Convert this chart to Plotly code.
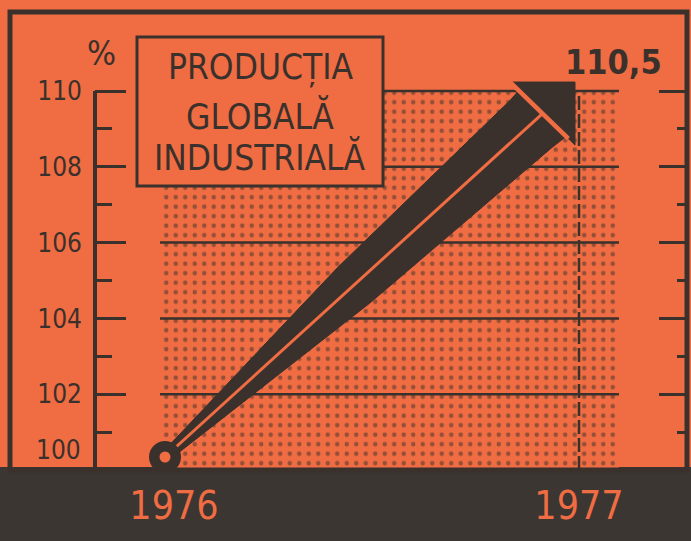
import plotly.graph_objects as go
import numpy as np

# ---------------- data ----------------
years = [1976, 1977]
values = [100, 110.5]
year_labels = ["1976", "1977"]
y_tick_vals = [102, 104, 106, 108, 110]
y_tick_text = ["102", "104", "106", "108", "110"]
y_minor_vals = [101, 103, 105, 107, 109]
base_value = 100
base_label = "100"
title_lines = ["PRODUCȚIA", "GLOBALĂ", "INDUSTRIALĂ"]
end_label = "110,5"
unit_label = "%"

# ---------------- style ----------------
ORANGE = "#F06C42"
DARK = "#3A312C"
BAND = "#3B3632"
NUM_FONT = "DejaVu Sans Condensed, Liberation Sans Narrow, sans-serif"
TITLE_FONT = "DejaVu Sans Condensed, Liberation Sans Narrow, sans-serif"

W, H = 691, 541
L, R, T, B = 95, 4, 12, 71
PW = W - L - R
PH = H - T - B

px_per_year = 405.0
first_year_px = 174.0
px_per_unit = 37.9

x_range = [years[0] - (first_year_px - L) / px_per_year,
           years[0] + (L + PW - first_year_px) / px_per_year]
y_range = [base_value, base_value + PH / px_per_unit]


def to_px(x, y):
    px = L + (x - x_range[0]) / (x_range[1] - x_range[0]) * PW
    py = T + (y_range[1] - y) / (y_range[1] - y_range[0]) * PH
    return np.array([px, py])


def to_data(p):
    x = x_range[0] + (p[0] - L) / PW * (x_range[1] - x_range[0])
    y = y_range[1] - (p[1] - T) / PH * (y_range[1] - y_range[0])
    return x, y


def px_paper(px, py):
    return (px - L) / PW, (T + PH - py) / PH


# panel (dotted background) extents, relative to the data years
panel_x0 = years[0] - 14 / px_per_year
panel_x1 = years[1] + 40 / px_per_year
panel_top = max(y_tick_vals)

# ---------------- arrow geometry (from the data points) ----------------
circle_r = 16
S = to_px(years[0], values[0]) + np.array([-9, -circle_r + 3])
TIP = to_px(years[1], values[1]) + np.array([-4, 10])
head_w, head_h = 65, 63
A = TIP + np.array([-head_w, 0])
Bh = TIP + np.array([0, head_h])
M = (A + Bh) / 2
u = (M - S) / np.linalg.norm(M - S)
n = np.array([-u[1], u[0]])
h = (Bh - A) / np.linalg.norm(Bh - A)
fracs = [0.0, 0.15, 0.5, 0.97]
halfw = [5, 10.5, 24, 31.5]
upper = [S + f * (M - S) - w * n for f, w in zip(fracs, halfw)]
lower = [S + f * (M - S) + w * n for f, w in zip(fracs, halfw)]
end_half = 33
shaft = upper + [M - end_half * h, M + end_half * h] + lower[::-1] + [upper[0]]
head = [A, TIP, Bh, A]
sep = [A - 2 * h, M + (end_half + 3) * h]


def poly(points):
    xs, ys = zip(*[to_data(p) for p in points])
    return list(xs), list(ys)


fig = go.Figure()

# dotted panel
fig.add_trace(go.Scatter(
    x=[panel_x0, panel_x1, panel_x1, panel_x0, panel_x0],
    y=[base_value, base_value, panel_top, panel_top, base_value],
    fill="toself", mode="lines", line=dict(width=0, color=ORANGE),
    fillcolor=ORANGE,
    fillpattern=dict(shape=".", fgcolor=DARK, bgcolor=ORANGE, size=9.5, solidity=0.18),
    hoverinfo="skip"))

# grid lines inside the panel
gx, gy = [], []
for v in y_tick_vals:
    gx += [panel_x0, panel_x1, None]
    gy += [v, v, None]
fig.add_trace(go.Scatter(x=gx, y=gy, mode="lines", line=dict(color=DARK, width=2.5),
                         hoverinfo="skip"))

# dashed vertical at the final year
fig.add_trace(go.Scatter(x=[years[1], years[1]], y=[base_value, panel_top], mode="lines",
                         line=dict(color=DARK, width=2.5, dash="14px,4px"),
                         yaxis="y2", hoverinfo="skip"))

# arrow shaft and head
sx, sy = poly(shaft)
fig.add_trace(go.Scatter(x=sx, y=sy, fill="toself", mode="lines", fillcolor=DARK,
                         line=dict(color=DARK, width=1), hoverinfo="skip"))
hx, hy = poly(head)
fig.add_trace(go.Scatter(x=hx, y=hy, fill="toself", mode="lines", fillcolor=DARK,
                         line=dict(color=DARK, width=1), hoverinfo="skip"))
cx, cy = poly([S, M])
fig.add_trace(go.Scatter(x=cx, y=cy, mode="lines", line=dict(color=ORANGE, width=3),
                         hoverinfo="skip"))
spx, spy = poly(sep)
fig.add_trace(go.Scatter(x=spx, y=spy, mode="lines", line=dict(color=ORANGE, width=4.5),
                         hoverinfo="skip"))
ox, oy = to_data(S)
fig.add_trace(go.Scatter(x=[ox], y=[oy], mode="markers",
                         marker=dict(size=2 * circle_r, color=DARK), hoverinfo="skip"))
fig.add_trace(go.Scatter(x=[ox], y=[oy], mode="markers",
                         marker=dict(size=11, color=ORANGE), hoverinfo="skip"))

# ---------------- shapes ----------------
shapes = []
# bottom dark band
bx0, by0 = px_paper(0, H)
bx1, by1 = px_paper(W, 467)
shapes.append(dict(type="rect", xref="paper", yref="paper", x0=bx0, x1=bx1, y0=by0, y1=by1,
                   fillcolor=BAND, line=dict(width=0), layer="below"))
# outer frame
fx0, _ = px_paper(10, 0)
shapes.append(dict(type="rect", xref="paper", yref="paper", x0=fx0, x1=1, y0=0, y1=1,
                   line=dict(color=DARK, width=5), fillcolor="rgba(0,0,0,0)", layer="above"))
# left axis line (from base to top tick)
shapes.append(dict(type="line", xref="paper", yref="y", x0=0, x1=0, y0=base_value,
                   y1=max(y_tick_vals), line=dict(color=DARK, width=4), layer="above"))
# title box
tx0, ty0 = px_paper(137, 186)
tx1, ty1 = px_paper(383, 37)
shapes.append(dict(type="rect", xref="paper", yref="paper", x0=tx0, x1=tx1, y0=ty0, y1=ty1,
                   fillcolor=ORANGE, line=dict(color=DARK, width=3), layer="above"))

# ---------------- annotations ----------------
ann = []
title_y_px = [67, 116, 157]
cxp, _ = px_paper(260, 0)
for line, ypx in zip(title_lines, title_y_px):
    _, yp = px_paper(0, ypx)
    ann.append(dict(text=line, xref="paper", yref="paper", x=cxp, y=yp, showarrow=False,
                    xanchor="center", yanchor="middle",
                    font=dict(family=TITLE_FONT, size=35, color=DARK)))
ux, uy = px_paper(101, 53)
ann.append(dict(text=unit_label, xref="paper", yref="paper", x=ux, y=uy, showarrow=False,
                xanchor="center", yanchor="middle",
                font=dict(family=NUM_FONT, size=34, color=DARK)))
ann.append(dict(text=base_label, xref="paper", yref="y", x=0, y=base_value, xshift=-12,
                yshift=20, showarrow=False, xanchor="right", yanchor="middle",
                font=dict(family=NUM_FONT, size=26, color=DARK)))
ann.append(dict(text="<b>%s</b>" % end_label, xref="x", yref="y", x=years[1], y=values[1],
                xshift=34, yshift=10, showarrow=False, xanchor="center", yanchor="middle",
                font=dict(family=NUM_FONT, size=34, color=DARK)))

fig.update_layout(
    width=W, height=H, autosize=False,
    margin=dict(l=L, r=R, t=T, b=B, pad=0),
    paper_bgcolor=ORANGE, plot_bgcolor=ORANGE,
    showlegend=False,
    shapes=shapes, annotations=ann,
    xaxis=dict(range=x_range, tickmode="array", tickvals=years, ticktext=year_labels,
               ticks="", showgrid=False, zeroline=False, showline=False,
               ticklabelstandoff=9,
               tickfont=dict(family=NUM_FONT, size=39, color=ORANGE), fixedrange=True),
    yaxis=dict(range=y_range, tickmode="array", tickvals=y_tick_vals, ticktext=y_tick_text,
               ticks="inside", ticklen=31, tickwidth=3, tickcolor=DARK,
               minor=dict(tickmode="array", tickvals=y_minor_vals, ticks="inside",
                          ticklen=17, tickwidth=3, tickcolor=DARK, showgrid=False),
               showgrid=False, zeroline=False, showline=False, ticklabelstandoff=12,
               tickfont=dict(family=NUM_FONT, size=26, color=DARK), fixedrange=True),
    yaxis2=dict(range=y_range, overlaying="y", side="right", tickmode="array",
                tickvals=y_tick_vals, showticklabels=False,
                ticks="inside", ticklen=28, tickwidth=3, tickcolor=DARK,
                minor=dict(tickmode="array", tickvals=y_minor_vals, ticks="inside",
                           ticklen=10, tickwidth=3, tickcolor=DARK, showgrid=False),
                showgrid=False, zeroline=False, showline=False, fixedrange=True),
)

fig.write_html("out.html", config={"displayModeBar": False},
               post_script="document.body.style.margin='0px';document.body.style.padding='0px';"
                           "document.body.style.overflow='hidden';")
